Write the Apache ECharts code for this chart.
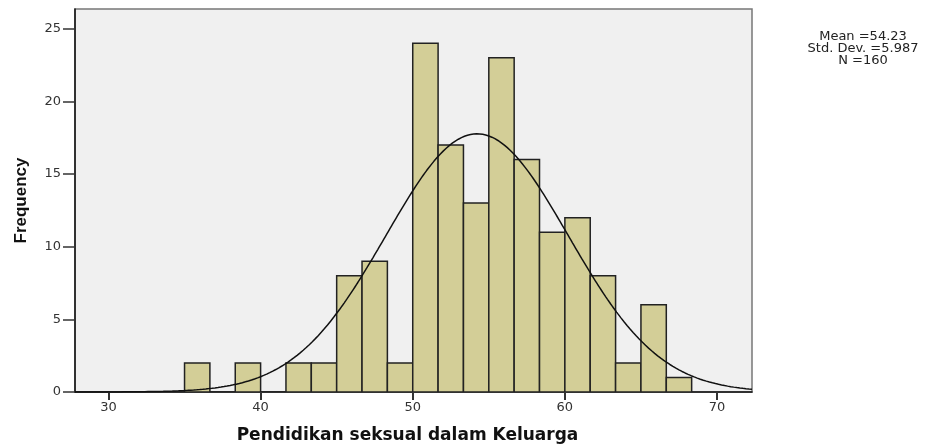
<!DOCTYPE html>
<html>
<head>
<meta charset="utf-8">
<script src="https://cdn.jsdelivr.net/npm/echarts@6/dist/echarts.min.js"></script>
<style>
  html, body { margin: 0; padding: 0; background: #fff; }
  #chart { width: 938px; height: 446px; }
</style>
</head>
<body>
<div id="chart"></div>
<script>
// histogram bins (start of first bin, bin width) and counts
const binStart = 35
const binWidth = 5 / 3
const counts = [2, 0, 2, 0, 2, 2, 8, 9, 2, 24, 17, 13, 23, 16, 11, 12, 8, 2, 6, 1]
const xTicks = [30, 40, 50, 60, 70]
const yTicks = [0, 5, 10, 15, 20, 25]
const mean = 54.23
const stdDev = 5.987
const n = 160

const xMin = 27.8
const xMax = 72.3

const barData = counts.map((c, i) => [binStart + i * binWidth, binStart + (i + 1) * binWidth, c])

// normal curve scaled to counts
const curveData = []
for (let x = xMin; x <= xMax + 0.001; x += 0.1) {
    const z = (x - mean) / stdDev
    const y = n * binWidth * Math.exp(-0.5 * z * z) / (stdDev * Math.sqrt(2 * Math.PI))
    curveData.push([x, y])
}

const tickFont = "'DejaVu Sans', sans-serif"

const chartInstance = echarts.init(document.getElementById('chart'))
const option = {
    animation: false,
    grid: {
        left: 75,
        right: 186,
        top: 9,
        bottom: 54,
        outerBoundsMode: 'none',
        show: true,
        backgroundColor: '#f0f0f0',
        borderColor: '#777',
        borderWidth: 1.5
    },
    xAxis: {
        type: 'value',
        min: xMin,
        max: xMax,
        splitLine: { show: false },
        axisLine: { show: true, onZero: false, lineStyle: { color: '#111', width: 1.5 } },
        axisTick: { show: true, customValues: xTicks, length: 8, lineStyle: { color: '#333', width: 2 } },
        axisLabel: { customValues: xTicks, color: '#333', fontSize: 13, fontFamily: tickFont, margin: 9 },
        name: 'Pendidikan seksual dalam Keluarga',
        nameLocation: 'middle',
        nameGap: 35,
        nameTextStyle: { fontFamily: tickFont, fontWeight: 'bold', fontSize: 17, color: '#111', padding: [0, 12, 0, 0] }
    },
    yAxis: {
        type: 'value',
        min: 0,
        max: 26.36,
        splitLine: { show: false },
        axisLine: { show: true, lineStyle: { color: '#111', width: 1.5 } },
        axisTick: { show: true, customValues: yTicks, length: 12, lineStyle: { color: '#333', width: 1.5 } },
        axisLabel: { customValues: yTicks, color: '#333', fontSize: 13, fontFamily: tickFont, margin: 14 },
        name: 'Frequency',
        nameLocation: 'middle',
        nameGap: 45,
        nameTextStyle: { fontFamily: "'Liberation Sans Narrow', 'Liberation Sans', sans-serif", fontWeight: 'bold', fontSize: 17, color: '#111' }
    },
    series: [
        {
            type: 'custom',
            data: barData,
            encode: { x: [0, 1], y: 2 },
            clip: true,
            renderItem: (params, api) => {
                const p0 = api.coord([api.value(0), api.value(2)])
                const p1 = api.coord([api.value(1), 0])
                return {
                    type: 'rect',
                    shape: { x: p0[0], y: p0[1], width: p1[0] - p0[0], height: p1[1] - p0[1] },
                    style: { fill: '#d3ce97', stroke: '#222', lineWidth: 1.5 }
                }
            }
        },
        {
            type: 'line',
            data: curveData,
            showSymbol: false,
            clip: true,
            lineStyle: { color: '#111', width: 1.5 },
            z: 3
        }
    ],
    graphic: [
        {
            type: 'text',
            x: 863,
            y: 31,
            style: {
                text: 'Mean =' + mean + '\nStd. Dev. =' + stdDev + '\nN =' + n,
                fill: '#222',
                font: "13px 'DejaVu Sans', sans-serif",
                align: 'center',
                verticalAlign: 'top',
                lineHeight: 12
            }
        }
    ]
}
chartInstance.setOption(option)
</script>
</body>
</html>
